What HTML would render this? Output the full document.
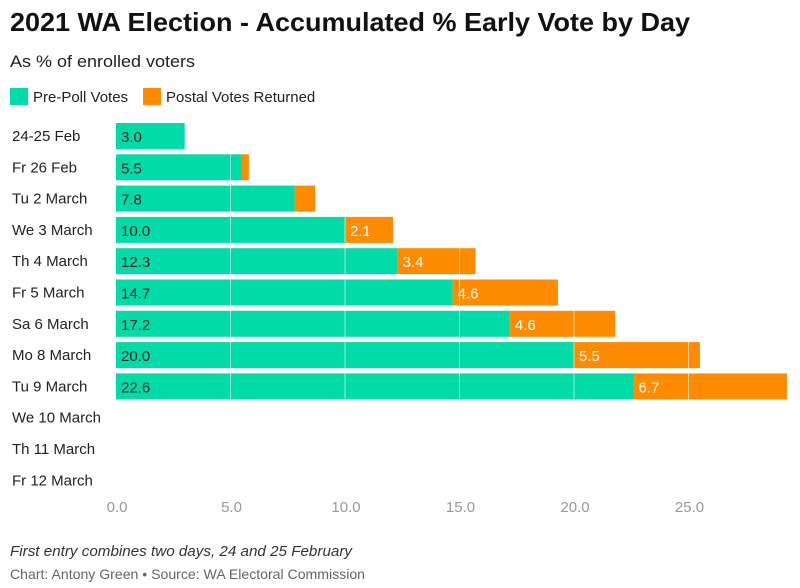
<!DOCTYPE html>
<html><head><meta charset="utf-8"><style>
body{margin:0;background:#fff;font-family:"Liberation Sans",sans-serif;}
#c{position:relative;width:800px;height:588px;overflow:hidden;}
</style></head><body><div id="c">
<svg id="s" width="800" height="588">
<text x="10" y="31" font-size="26" font-weight="bold" fill="#111" textLength="680" lengthAdjust="spacingAndGlyphs">2021 WA Election - Accumulated % Early Vote by Day</text>
<text x="10" y="67" font-size="17" fill="#222" textLength="185" lengthAdjust="spacingAndGlyphs">As % of enrolled voters</text>
<g>
<rect x="10" y="88" width="18" height="17" fill="#00dba7"/>
<text x="33" y="102" font-size="15" fill="#222">Pre-Poll Votes</text>
<rect x="143" y="88" width="18" height="17" fill="#ff8c00"/>
<text x="166" y="102" font-size="15" fill="#222">Postal Votes Returned</text>
</g>
<g id="bars"></g>
<text x="10" y="556" font-size="15" font-style="italic" fill="#333" textLength="342" lengthAdjust="spacingAndGlyphs">First entry combines two days, 24 and 25 February</text>
<text x="10" y="579" font-size="14" fill="#666" textLength="355" lengthAdjust="spacingAndGlyphs">Chart: Antony Green • Source: WA Electoral Commission</text>
</svg></div>
<script>
const categories=["24-25 Feb","Fr 26 Feb","Tu 2 March","We 3 March","Th 4 March","Fr 5 March","Sa 6 March","Mo 8 March","Tu 9 March","We 10 March","Th 11 March","Fr 12 March"];
const prePoll=[3.0,5.5,7.8,10.0,12.3,14.7,17.2,20.0,22.6,null,null,null];
const postal=[0,0.3,0.9,2.1,3.4,4.6,4.6,5.5,6.7,null,null,null];
const ticks=[0,5,10,15,20,25];
const NS="http://www.w3.org/2000/svg";
const g=document.getElementById('bars');
const x0=116,sc=22.9;
const xs=v=>x0+v*sc;
const rowY=i=>123+i*31.3;
function mk(t,a){const e=document.createElementNS(NS,t);for(const k in a)e.setAttribute(k,a[k]);g.appendChild(e);return e;}
categories.forEach((c,i)=>{
 const y=rowY(i);
 const t=mk('text',{x:12,y:y+18,'font-size':15,fill:'#222'});t.textContent=c;
 
 
 if(prePoll[i]==null)return;
 const p=prePoll[i],q=postal[i];
 const r1=mk('rect',{x:xs(0),y:y,width:p*sc,height:26,fill:'#00dba7'});
 
 
 if(q>0){const r2=mk('rect',{x:xs(p),y:y,width:q*sc,height:26,fill:'#ff8c00'});
 
 }
 const l=mk('text',{x:xs(0)+5,y:y+19,'font-size':15,fill:'#222'});l.textContent=p.toFixed(1);
 
 
 if(q>=1){const l2=mk('text',{x:xs(p)+5,y:y+19,'font-size':15,fill:'#fff'});l2.textContent=q.toFixed(1);
 
 }
});
ticks.forEach(v=>{
 if(v>0){const ln=mk('line',{x1:xs(v),x2:xs(v),y1:118,y2:402,stroke:'#fff','stroke-opacity':0.6,'stroke-width':1});
 
 }
 const t=mk('text',{x:xs(v)+1,y:512,'font-size':15,fill:'#999','text-anchor':'middle'});t.textContent=v.toFixed(1);
 
 
});
</script></body></html>
